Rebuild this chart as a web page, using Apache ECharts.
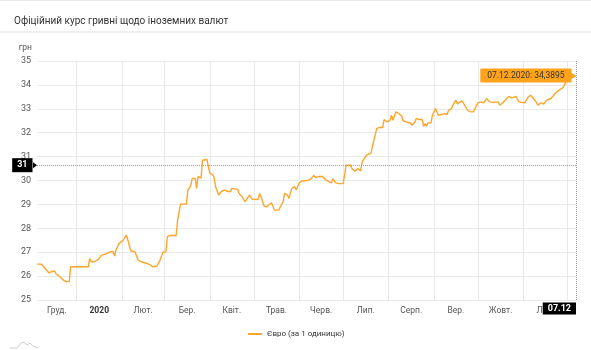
<!DOCTYPE html>
<html>
<head>
<meta charset="utf-8">
<script src="https://cdn.jsdelivr.net/npm/echarts@6/dist/echarts.min.js"></script>
<style>
html,body{margin:0;padding:0;background:#fff;}
#c{width:591px;height:350px;}
</style>
</head>
<body>
<div id="c"></div>
<script>
const titleText = 'Офіційний курс гривні щодо іноземних валют';
const seriesName = 'Євро (за 1 одиницю)';
const unitName = 'грн';
const axisStart = '2019-12-05';
const axisEnd = '2020-12-07';
const monthStarts = ['2020-01-01','2020-02-01','2020-03-01','2020-04-01','2020-05-01','2020-06-01','2020-07-01','2020-08-01','2020-09-01','2020-10-01','2020-11-01','2020-12-01'];
const monthLabels = ['Груд.','2020','Лют.','Бер.','Квіт.','Трав.','Черв.','Лип.','Серп.','Вер.','Жовт.','Лис.'];
const cursorValue = 30.64;
const cursorLabel = '31';

const dates = [
'2019-12-05','2019-12-08','2019-12-10','2019-12-13','2019-12-14','2019-12-17','2019-12-18','2019-12-21','2019-12-23','2019-12-25','2019-12-27','2019-12-28',
'2020-01-09','2020-01-10','2020-01-11','2020-01-13','2020-01-16','2020-01-18','2020-01-21','2020-01-24','2020-01-26','2020-01-27','2020-01-28','2020-01-30',
'2020-02-02','2020-02-04','2020-02-05','2020-02-07','2020-02-10','2020-02-12','2020-02-14','2020-02-17','2020-02-20','2020-02-22','2020-02-25','2020-02-27','2020-02-29',
'2020-03-02','2020-03-03','2020-03-05','2020-03-09','2020-03-10','2020-03-12','2020-03-16','2020-03-17','2020-03-19','2020-03-20','2020-03-22','2020-03-23','2020-03-24','2020-03-25','2020-03-26','2020-03-27','2020-03-30','2020-03-31',
'2020-04-01','2020-04-03','2020-04-04','2020-04-05','2020-04-07','2020-04-09','2020-04-11','2020-04-13','2020-04-15','2020-04-16','2020-04-20','2020-04-21','2020-04-23','2020-04-25','2020-04-26','2020-04-28','2020-04-29','2020-04-30',
'2020-05-04','2020-05-05','2020-05-06','2020-05-08','2020-05-10','2020-05-13','2020-05-14','2020-05-15','2020-05-18','2020-05-21','2020-05-22','2020-05-24','2020-05-25','2020-05-27','2020-05-29','2020-05-30',
'2020-06-01','2020-06-03','2020-06-07','2020-06-09','2020-06-11','2020-06-12','2020-06-15','2020-06-17','2020-06-19','2020-06-23','2020-06-24','2020-06-26','2020-06-28',
'2020-07-01','2020-07-02','2020-07-03','2020-07-04','2020-07-06','2020-07-07','2020-07-09','2020-07-11','2020-07-13','2020-07-14','2020-07-17','2020-07-18','2020-07-20','2020-07-21','2020-07-22','2020-07-24','2020-07-26','2020-07-28','2020-07-29','2020-07-31',
'2020-08-02','2020-08-03','2020-08-04','2020-08-06','2020-08-08','2020-08-10','2020-08-11','2020-08-13','2020-08-16','2020-08-17','2020-08-19','2020-08-20','2020-08-22','2020-08-24','2020-08-25','2020-08-26','2020-08-27','2020-08-28','2020-08-30','2020-08-31',
'2020-09-02','2020-09-04','2020-09-06','2020-09-08','2020-09-10','2020-09-11','2020-09-13','2020-09-14','2020-09-16','2020-09-17','2020-09-18','2020-09-20','2020-09-22','2020-09-24','2020-09-26','2020-09-28','2020-09-29',
'2020-10-01','2020-10-03','2020-10-05','2020-10-07','2020-10-09','2020-10-11','2020-10-15','2020-10-16','2020-10-18','2020-10-20','2020-10-22','2020-10-24','2020-10-25','2020-10-27','2020-10-29','2020-10-31',
'2020-11-02','2020-11-04','2020-11-06','2020-11-07','2020-11-08','2020-11-10','2020-11-11','2020-11-13','2020-11-15','2020-11-17','2020-11-20','2020-11-21','2020-11-23','2020-11-24','2020-11-26','2020-11-28','2020-11-29','2020-11-30',
'2020-12-03','2020-12-07'
];
const values = [
26.50,26.50,26.37,26.14,26.22,26.22,26.10,25.95,25.83,25.77,25.77,26.39,
26.39,26.74,26.60,26.60,26.70,26.88,26.92,27.02,27.02,26.84,27.10,27.37,
27.51,27.72,27.51,27.06,27.00,26.67,26.60,26.55,26.48,26.39,26.42,26.67,27.00,
27.02,27.65,27.70,27.70,28.34,29.01,29.01,29.60,29.80,30.09,30.09,29.67,30.17,30.20,30.10,30.85,30.88,30.95,
30.30,30.25,30.10,29.73,29.39,29.55,29.60,29.55,29.53,29.67,29.63,29.46,29.32,29.11,29.11,29.39,29.39,29.21,
29.21,29.46,29.32,28.93,28.90,29.07,28.93,28.76,28.76,29.11,29.46,29.39,29.25,29.67,29.74,29.60,
29.90,29.98,30.00,30.07,30.22,30.12,30.17,30.17,30.03,29.90,30.07,29.90,29.87,
29.87,30.22,30.64,30.57,30.64,30.50,30.39,30.50,30.40,30.78,31.06,31.13,31.15,31.41,31.69,32.18,32.22,32.22,32.55,32.45,
32.52,32.73,32.52,32.87,32.80,32.70,32.50,32.45,32.41,32.31,32.45,32.60,32.55,32.55,32.27,32.38,32.27,32.41,32.41,32.73,
33.01,32.73,32.76,32.80,32.76,32.94,33.01,33.15,33.36,33.20,33.20,33.33,33.15,32.94,32.87,32.87,33.01,
33.25,33.29,33.25,33.43,33.29,33.27,33.29,33.15,33.25,33.39,33.52,33.46,33.52,33.52,33.29,33.27,
33.25,33.46,33.57,33.57,33.43,33.27,33.15,33.25,33.20,33.36,33.43,33.43,33.66,33.70,33.80,33.88,33.98,34.12,
34.25,34.3895
];

const ts = s => +echarts.time.parse(s);
const xMin = ts(axisStart), xMax = ts(axisEnd);
const splitTs = monthStarts.map(ts);
const bounds = [xMin].concat(splitTs);
const labelTs = monthLabels.map((_, i) => (bounds[i] + bounds[i + 1]) / 2);
const seriesData = dates.map((d, i) => [ts(d), values[i]]);
const lastTs = seriesData[seriesData.length - 1][0];
const lastVal = values[values.length - 1];
const lastDateParts = dates[dates.length - 1].split('-');
const tipText = lastDateParts[2] + '.' + lastDateParts[1] + '.' + lastDateParts[0] + ': ' + lastVal.toFixed(4).replace('.', ',');
const xCursorText = lastDateParts[2] + '.' + lastDateParts[1];

const FONT = 'Roboto, "Noto Sans", sans-serif';
const chart = echarts.init(document.getElementById('c'), null, {renderer: 'canvas'});
chart.setOption({
  animation: false,
  textStyle: {fontFamily: FONT},
  title: {
    text: titleText, left: 9, top: 11,
    textStyle: {fontSize: 10, fontWeight: 'normal', color: '#333', fontFamily: FONT}
  },
  graphic: [
    {type: 'rect', left: 0, top: 0, shape: {width: 591, height: 1}, style: {fill: '#e8e8e8'}, silent: true},
    {type: 'rect', left: 0, top: 31, shape: {width: 591, height: 2}, style: {fill: '#eeeeee'}, silent: true},
    {type: 'polyline', silent: true, shape: {points: [[10,348],[17,348],[21,343],[24,342],[27,345],[30,343],[33,346],[38,348]]}, style: {stroke: '#cfcfcf', lineWidth: 1, fill: null}}
  ],
  legend: {
    data: [seriesName], left: 243, top: 325,
    icon: 'rect', itemWidth: 14, itemHeight: 2, itemGap: 10,
    textStyle: {fontSize: 8, color: '#333', fontFamily: FONT}
  },
  grid: {left: 37, right: 15, top: 61, bottom: 50, containLabel: false},
  xAxis: {
    type: 'value', min: xMin, max: xMax, scale: true,
    axisLine: {show: false},
    axisTick: {show: false, customValues: splitTs},
    splitLine: {show: true, lineStyle: {color: '#e9e9e9', width: 1}},
    axisLabel: {
      customValues: labelTs, margin: 6, fontSize: 8.5, color: '#555', fontFamily: FONT,
      hideOverlap: false,
      formatter: function (v) {
        let best = 0, bd = Infinity;
        labelTs.forEach((t, i) => { const d = Math.abs(t - v); if (d < bd) { bd = d; best = i; } });
        const s = monthLabels[best];
        return /^\d{4}$/.test(s) ? '{b|' + s + '}' : s;
      },
      rich: {b: {fontWeight: 'bold', color: '#333', fontSize: 8.5, fontFamily: FONT}}
    }
  },
  yAxis: {
    type: 'value', min: 25, max: 35, interval: 1,
    name: unitName, nameLocation: 'end', nameGap: 9,
    nameTextStyle: {fontSize: 8.5, color: '#555', align: 'right', padding: [0, 5, 0, 0], fontFamily: FONT},
    axisLine: {show: false}, axisTick: {show: false},
    splitLine: {lineStyle: {color: '#e9e9e9', width: 1}},
    axisLabel: {fontSize: 9, color: '#555', margin: 6, fontFamily: FONT}
  },
  series: [{
    name: seriesName, type: 'line', data: seriesData,
    showSymbol: false, symbol: 'none',
    lineStyle: {color: '#ffa52b', width: 1.4},
    itemStyle: {color: '#ffa52b'},
    markLine: {
      silent: true, symbol: 'none', animation: false,
      label: {show: false},
      lineStyle: {type: 'dotted', color: '#9a9a9a', width: 1},
      data: [{yAxis: cursorValue}, {xAxis: lastTs}]
    },
    markPoint: {
      silent: true, animation: false,
      data: [
        {coord: [lastTs, lastVal], symbol: 'triangle', symbolSize: [7, 5], symbolRotate: -90, symbolOffset: [-3, 0],
          itemStyle: {color: '#ffa31a'}, label: {show: false}},
        {coord: [lastTs, lastVal], symbol: 'circle', symbolSize: 1, itemStyle: {color: 'rgba(0,0,0,0)'},
          label: {show: true, formatter: tipText, position: [-4, 0.5], align: 'right', verticalAlign: 'middle',
            backgroundColor: '#ffa31a', color: '#333', padding: [3, 7, 2, 7], fontSize: 8.5, fontFamily: FONT, borderRadius: 1}},
        {coord: [xMin, cursorValue], symbol: 'triangle', symbolSize: [6, 4], symbolRotate: -90, symbolOffset: [-2, 0],
          itemStyle: {color: '#000'}, label: {show: false}},
        {coord: [xMin, cursorValue], symbol: 'circle', symbolSize: 1, itemStyle: {color: 'rgba(0,0,0,0)'},
          label: {show: true, formatter: cursorLabel, position: [-4, 0.5], align: 'right', verticalAlign: 'middle',
            backgroundColor: '#000', color: '#fff', padding: [3, 5, 2, 5], fontSize: 9, fontWeight: 'bold', fontFamily: FONT}},
        {coord: [lastTs, 25], symbol: 'circle', symbolSize: 1, itemStyle: {color: 'rgba(0,0,0,0)'},
          label: {show: true, formatter: xCursorText, position: [0.5, 3], align: 'right', verticalAlign: 'top',
            backgroundColor: '#000', color: '#fff', padding: [2, 5, 1, 5], fontSize: 9, fontWeight: 'bold', fontFamily: FONT}}
      ]
    }
  }]
});
</script>
</body>
</html>
